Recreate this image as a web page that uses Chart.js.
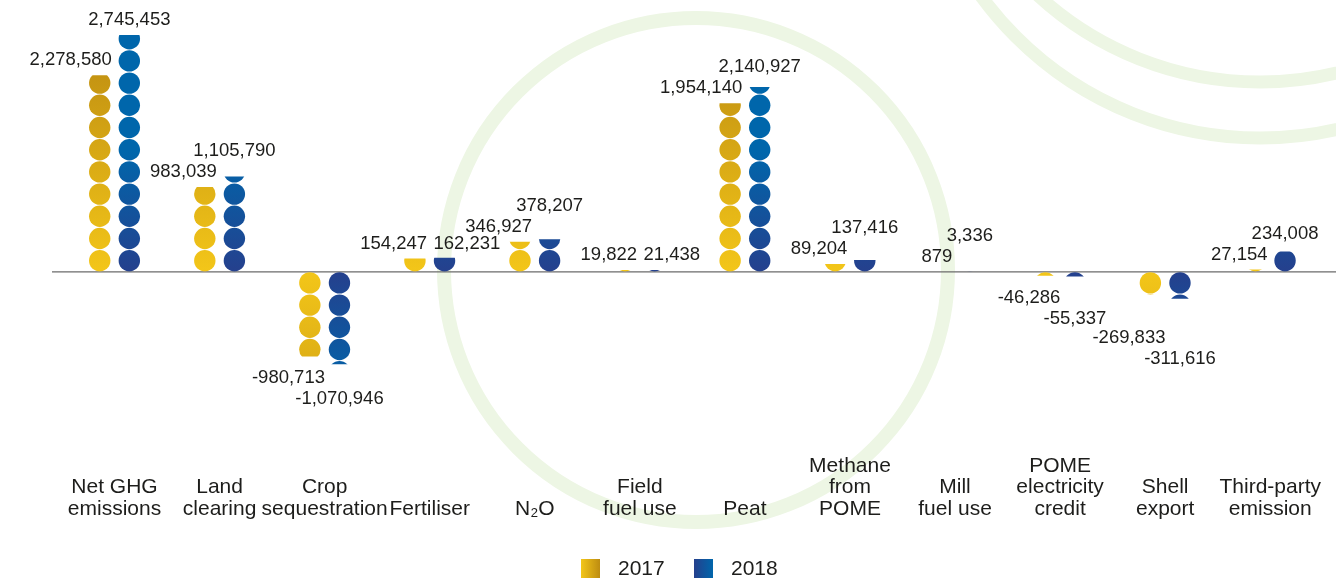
<!DOCTYPE html>
<html>
<head>
<meta charset="utf-8">
<title>GHG emissions 2017 and 2018</title>
<script src="https://cdn.jsdelivr.net/npm/chart.js@4.4.1/dist/chart.umd.min.js"></script>
<style>
    html, body { margin: 0; padding: 0; background: #ffffff; }
    #wrap { position: relative; width: 1336px; height: 582px; }
</style>
</head>
<body>
<div id="wrap"><canvas id="chart"></canvas></div>
<script>
// data (tCO2e)
const categories = [
    'Net GHG emissions', 'Land clearing', 'Crop sequestration', 'Fertiliser', 'N2O',
    'Field fuel use', 'Peat', 'Methane from POME', 'Mill fuel use',
    'POME electricity credit', 'Shell export', 'Third-party emission',
];
const tickLabels = [
    ['', 'Net GHG', 'emissions'],
    ['', 'Land', 'clearing'],
    ['', 'Crop', 'sequestration'],
    ['', '', 'Fertiliser'],
    ['', '', 'N₂O'],
    ['', 'Field', 'fuel use'],
    ['', '', 'Peat'],
    ['Methane', 'from', 'POME'],
    ['', 'Mill', 'fuel use'],
    ['POME', 'electricity', 'credit'],
    ['', 'Shell', 'export'],
    ['', 'Third-party', 'emission'],
];
const years = ['2017', '2018'];
const values2017 = [2278580, 983039, -980713, 154247, 346927, 19822, 1954140, 89204, 879, -46286, -269833, 27154];
const values2018 = [2745453, 1105790, -1070946, 162231, 378207, 21438, 2140927, 137416, 3336, -55337, -311616, 234008];
// how the 2018 label sits next to the 2017 one: 'stack' = above it, 'side' = same line
const label2018Mode = ['stack', 'stack', 'stack', 'side', 'stack', 'side', 'stack', 'stack', 'stack', 'stack', 'stack', 'stack'];

const FONT = '"Liberation Sans", Arial, sans-serif';
const TEXT_COLOR = '#1d1d1b';
const LINE_STEP = 21;

const palette = {
    2017: { near: '#F3C619', far: '#BD8C11', fade: 230 },
    2018: { near: '#25408D', far: '#0066AB', fade: 120 },
};

const formatValue = (value) => value.toLocaleString('en-US');

const backgroundRings = {
    id: 'backgroundRings',
    beforeDraw(chart) {
        const { ctx } = chart;
        ctx.save();
        ctx.strokeStyle = '#EDF6E4';
        ctx.lineWidth = 14;
        ctx.beginPath();
        ctx.arc(696, 270, 252, 0, Math.PI * 2);
        ctx.stroke();
        ctx.lineWidth = 13;
        ctx.beginPath();
        ctx.arc(1260, -246, 328, 0, Math.PI * 2);
        ctx.stroke();
        ctx.beginPath();
        ctx.arc(1260, -207, 345, 0, Math.PI * 2);
        ctx.stroke();
        ctx.restore();
    },
    beforeDatasetsDraw(chart) {
        const { ctx } = chart;
        const zero = chart.scales.y.getPixelForValue(0);
        ctx.save();
        ctx.strokeStyle = '#6b6b6b';
        ctx.lineWidth = 1.2;
        ctx.beginPath();
        ctx.moveTo(chart.chartArea.left - 10, zero);
        ctx.lineTo(chart.width, zero);
        ctx.stroke();
        ctx.restore();
    },
};

const dotColumns = {
    id: 'dotColumns',
    afterDatasetsDraw(chart) {
        const { ctx } = chart;

        chart.data.datasets.forEach((dataset, di) => {
            const colors = palette[dataset.label];
            const meta = chart.getDatasetMeta(di);
            meta.data.forEach((bar) => {
                const { x, y, base, width } = bar.getProps(['x', 'y', 'base', 'width'], true);
                const length = Math.abs(base - y);
                if (length <= 0) {
                    return;
                }
                const pitch = width;
                const radius = width / 2;
                const dir = y < base ? -1 : 1;

                ctx.save();
                ctx.beginPath();
                ctx.rect(x - radius - 1, Math.min(y, base), radius * 2 + 2, length);
                ctx.clip();

                const gradient = ctx.createLinearGradient(0, base, 0, base + dir * colors.fade);
                gradient.addColorStop(0, colors.near);
                gradient.addColorStop(1, colors.far);
                ctx.fillStyle = gradient;

                for (let k = 0; k * pitch < length; k++) {
                    ctx.beginPath();
                    ctx.arc(x, base + dir * (k + 0.5) * pitch, radius - 0.4, 0, Math.PI * 2);
                    ctx.fill();
                }
                ctx.restore();
            });
        });
    },
};

const valueLabels = {
    id: 'valueLabels',
    afterDatasetsDraw(chart) {
        const { ctx } = chart;
        const bars17 = chart.getDatasetMeta(0).data;
        const bars18 = chart.getDatasetMeta(1).data;
        const placed = [];

        ctx.save();
        ctx.font = `18.5px ${FONT}`;
        ctx.fillStyle = TEXT_COLOR;
        ctx.textBaseline = 'middle';
        ctx.textAlign = 'left';

        const overlaps = (box) => placed.some((p) => box.left < p.right && box.right > p.left
            && box.top < p.bottom && box.bottom > p.top);

        // draws a label, moving it further away from the axis while it hits another one
        const placeLabel = (text, x, align, y, step) => {
            const w = ctx.measureText(text).width;
            let left = x;
            if (align === 'right') {
                left = x - w;
            } else if (align === 'center') {
                left = x - w / 2;
            }
            let box = null;
            for (let n = 0; n < 8; n++) {
                box = { left, right: left + w, top: y - 8, bottom: y + 8 };
                if (!overlaps(box)) {
                    break;
                }
                y += step;
            }
            placed.push(box);
            ctx.fillText(text, left, y);
            return y;
        };

        categories.forEach((_, i) => {
            const a = bars17[i].getProps(['x', 'y', 'width'], true);
            const b = bars18[i].getProps(['x', 'y', 'width'], true);
            const v17 = values2017[i];
            const v18 = values2018[i];

            if (v17 >= 0) {
                const y17 = placeLabel(formatValue(v17), a.x + a.width / 2 + 1, 'right', a.y - 15, -LINE_STEP);
                if (label2018Mode[i] === 'side') {
                    placeLabel(formatValue(v18), b.x - b.width / 2, 'left', y17, -LINE_STEP);
                } else {
                    placeLabel(formatValue(v18), b.x, 'center', Math.min(b.y - 15, y17 - LINE_STEP), -LINE_STEP);
                }
            } else {
                const y17 = placeLabel(formatValue(v17), a.x + a.width / 2 + 4, 'right', a.y + 22, LINE_STEP);
                placeLabel(formatValue(v18), b.x, 'center', Math.max(b.y + 22, y17 + LINE_STEP), LINE_STEP);
            }
        });
        ctx.restore();
    },
};

const bottomLegend = {
    id: 'bottomLegend',
    afterDraw(chart) {
        const { ctx } = chart;
        const centre = chart.width / 2;
        const boxSize = 19;
        const top = 559;
        const starts = [centre - 87, centre + 26];

        ctx.save();
        ctx.font = `21px ${FONT}`;
        ctx.textBaseline = 'middle';
        ctx.textAlign = 'left';
        years.forEach((year, i) => {
            const colors = palette[year];
            const x = starts[i];
            const gradient = ctx.createLinearGradient(x, 0, x + boxSize, 0);
            gradient.addColorStop(0, colors.near);
            gradient.addColorStop(1, colors.far);
            ctx.fillStyle = gradient;
            ctx.fillRect(x, top, boxSize, boxSize);
            ctx.fillStyle = TEXT_COLOR;
            ctx.fillText(year, x + boxSize + 18, top + boxSize / 2 + 1);
        });
        ctx.restore();
    },
};

const context = document.getElementById('chart').getContext('2d');

new Chart(context, {
    type: 'bar',
    data: {
        labels: tickLabels,
        datasets: [
            {
                label: years[0],
                data: values2017,
                backgroundColor: 'rgba(0, 0, 0, 0)',
                borderWidth: 0,
            },
            {
                label: years[1],
                data: values2018,
                backgroundColor: 'rgba(0, 0, 0, 0)',
                borderWidth: 0,
            },
        ],
    },
    options: {
        responsive: true,
        maintainAspectRatio: false,
        animation: false,
        devicePixelRatio: 1,
        categoryPercentage: 0.5634,
        barPercentage: 0.75,
        layout: {
            padding: { top: 13, left: 62, right: -4, bottom: 0 },
        },
        scales: {
            x: {
                grid: { display: false, drawTicks: false },
                border: { display: false },
                ticks: {
                    autoSkip: false,
                    maxRotation: 0,
                    padding: 15,
                    color: TEXT_COLOR,
                    font: { family: FONT, size: 21, lineHeight: 1.024 },
                },
                afterFit: (scale) => {
                    scale.height = 142;
                },
            },
            y: {
                display: false,
                min: -1950000,
                max: 3000000,
            },
        },
        plugins: {
            legend: { display: false },
            tooltip: { enabled: false },
        },
    },
    plugins: [backgroundRings, dotColumns, valueLabels, bottomLegend],
});
</script>
</body>
</html>
